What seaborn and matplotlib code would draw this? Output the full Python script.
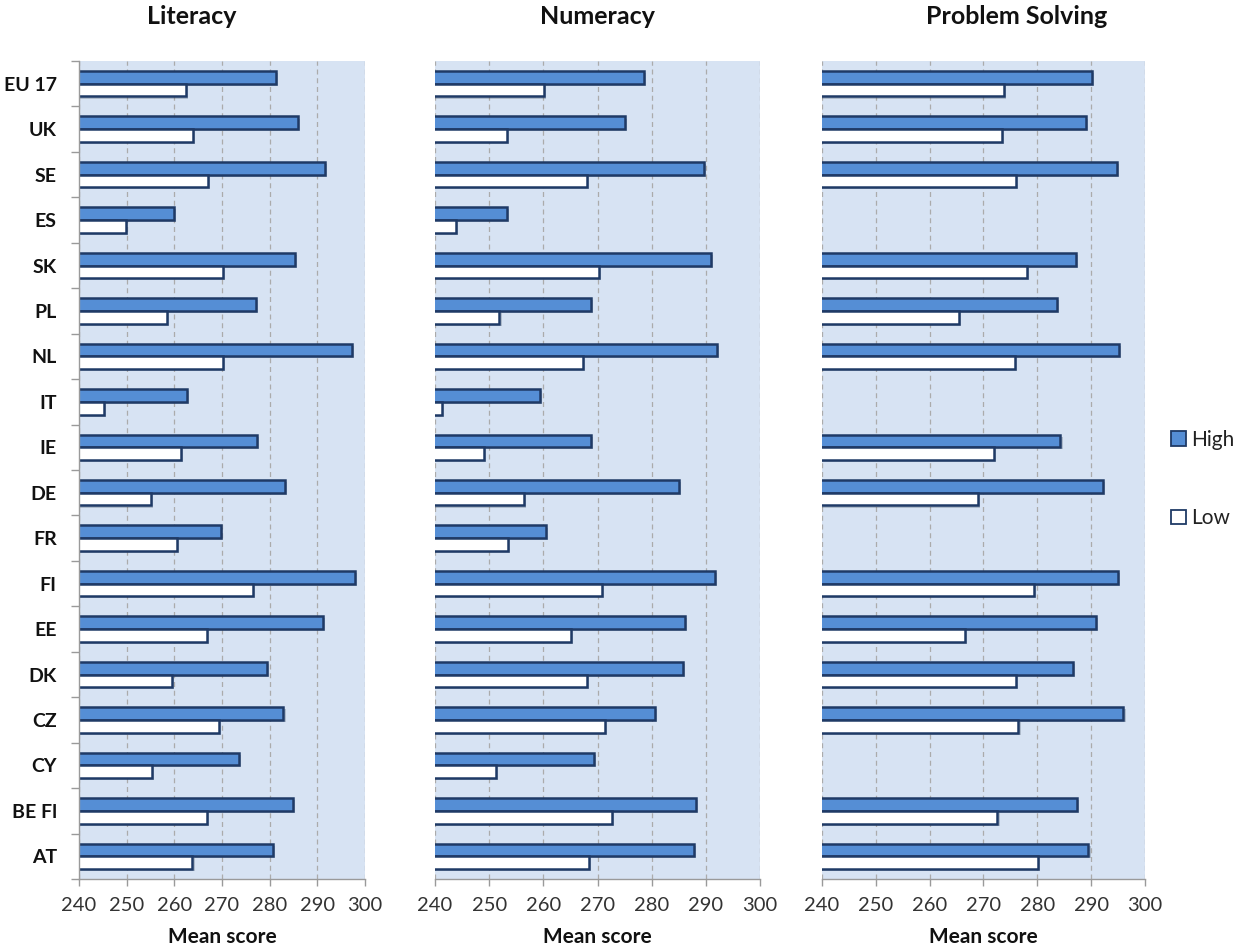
import numpy as np
import pandas as pd
import matplotlib
matplotlib.use("Agg")
import matplotlib.pyplot as plt
import matplotlib.patheffects as pe
from matplotlib.patches import Patch
import seaborn as sns

# Countries, listed top to bottom
countries = ["EU 17", "UK", "SE", "ES", "SK", "PL", "NL", "IT", "IE",
             "DE", "FR", "FI", "EE", "DK", "CZ", "CY", "BE Fl", "AT"]

# Mean scores of the high and low groups in each domain (NaN = not assessed)
literacy_high = [281.4, 285.9, 291.6, 259.9, 285.4, 277.2, 297.2, 262.7, 277.4,
                 283.2, 269.8, 297.9, 291.2, 279.5, 282.9, 273.5, 284.8, 280.7]
literacy_low = [262.5, 263.9, 267.1, 249.8, 270.2, 258.5, 270.2, 245.2, 261.3,
                255.1, 260.6, 276.4, 266.8, 259.5, 269.3, 255.4, 266.9, 263.8]

numeracy_high = [278.5, 275.1, 289.7, 253.3, 290.9, 268.8, 292.1, 259.4, 268.8,
                 285.0, 260.4, 291.7, 286.2, 285.7, 280.6, 269.4, 288.2, 287.8]
numeracy_low = [260.1, 253.3, 268.1, 243.8, 270.3, 251.9, 267.3, 241.3, 249.0,
                256.4, 253.5, 270.8, 265.1, 268.0, 271.3, 251.3, 272.6, 268.4]

problem_high = [290.1, 289.1, 294.8, np.nan, 287.2, 283.6, 295.2, np.nan, 284.3,
                292.2, np.nan, 294.9, 290.9, 286.7, 296.0, np.nan, 287.3, 289.5]
problem_low = [273.8, 273.4, 276.1, np.nan, 278.1, 265.5, 275.9, np.nan, 272.0,
               269.0, np.nan, 279.3, 266.5, 276.1, 276.5, np.nan, 272.6, 280.2]

domains = ["Literacy", "Numeracy", "Problem Solving"]
levels = ["High", "Low"]
x_ticks = [240, 250, 260, 270, 280, 290, 300]

domain_values = {
    "Literacy": (literacy_high, literacy_low),
    "Numeracy": (numeracy_high, numeracy_low),
    "Problem Solving": (problem_high, problem_low),
}

sns.set_theme(style="white")
plt.rcParams["font.family"] = ["Lato", "DejaVu Sans"]

BLUE = "#558ED5"
EDGE = "#1F3A66"
BG = "#D7E3F3"
GRID = "#ABABAB"
AXIS = "#9A9A9A"

fig = plt.figure(figsize=(12.36, 9.52), dpi=100)

W, H = 1236, 952
axes_px = [(79, 365), (435, 760), (822, 1145)]
top_px, bottom_px = 61, 879
title_x = [191.5, 598, 1017]

shadow = [pe.SimplePatchShadow(offset=(1.5, -1.5), alpha=0.22, shadow_rgbFace="#203040"),
          pe.Normal()]

for i, domain in enumerate(domains):
    left, right = axes_px[i]
    ax = fig.add_axes([left / W, 1 - bottom_px / H, (right - left) / W,
                       (bottom_px - top_px) / H])
    ax.set_facecolor(BG)

    high, low = domain_values[domain]
    df = pd.DataFrame({
        "country": countries * 2,
        "level": ["High"] * len(countries) + ["Low"] * len(countries),
        "score": list(high) + list(low),
    }).dropna()

    sns.barplot(data=df, x="score", y="country", hue="level", orient="h",
                order=countries, hue_order=levels,
                palette={"High": BLUE, "Low": "white"}, saturation=1,
                edgecolor=EDGE, linewidth=1.8, width=0.56,
                errorbar=None, legend=False, ax=ax)
    for bar in ax.patches:
        bar.set_path_effects(shadow)

    ax.set_xlim(240, 300)
    ax.set_ylim(len(countries) - 0.5, -0.5)
    ax.set_xticks(x_ticks)
    ax.set_xticklabels([str(t) for t in x_ticks])
    ax.grid(axis="x", linestyle=(0, (4, 3)), color=GRID, linewidth=0.9)
    ax.grid(axis="y", visible=False)
    ax.set_axisbelow(True)

    for side in ["top", "right"]:
        ax.spines[side].set_visible(False)
    ax.spines["bottom"].set_color(AXIS)
    ax.spines["bottom"].set_linewidth(1.0)

    ax.tick_params(axis="x", which="major", direction="out", length=5,
                   width=1.0, color=AXIS, pad=8, labelsize=14.5,
                   labelcolor="#333333", bottom=True)

    if i == 0:
        ax.spines["left"].set_color(AXIS)
        ax.spines["left"].set_linewidth(1.0)
        ax.set_yticks(range(len(countries)))
        ax.set_yticklabels(countries, fontweight="bold", fontsize=14,
                           color="#111111")
        ax.set_yticks(np.arange(-0.5, len(countries), 1), minor=True)
        ax.tick_params(axis="y", which="major", length=0, pad=16, left=False)
        ax.tick_params(axis="y", which="minor", direction="out", length=6,
                       width=1.0, color=AXIS, left=True)
    else:
        ax.spines["left"].set_visible(False)
        ax.set_yticks([])

    ax.set_ylabel("")
    ax.set_xlabel("Mean score", fontsize=15, fontweight="bold",
                  color="#111111", labelpad=9)

    fig.text(title_x[i] / W, 1 - 17 / H, domain, ha="center", va="center",
             fontsize=18, fontweight="bold", color="#111111")

handles = [Patch(facecolor=BLUE, edgecolor=EDGE, linewidth=1.3, label="High"),
           Patch(facecolor="white", edgecolor=EDGE, linewidth=1.3, label="Low")]
fig.legend(handles=handles, loc="center left",
           bbox_to_anchor=(1171 / W, 1 - 479 / H), frameon=False,
           fontsize=15, handlelength=0.7, handleheight=0.7,
           handletextpad=0.25, labelspacing=2.8, borderpad=0,
           borderaxespad=0, labelcolor="#222222")

fig.savefig("out.png", dpi=100)
